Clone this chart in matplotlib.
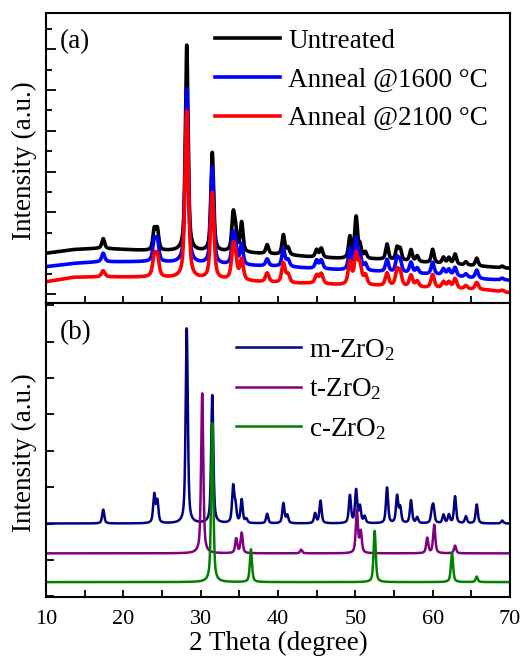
import numpy as np
import matplotlib
matplotlib.use("Agg")
import matplotlib.pyplot as plt
from matplotlib.ticker import MultipleLocator

plt.rcParams['font.family'] = ['Liberation Serif', 'DejaVu Serif']
plt.rcParams['mathtext.fontset'] = 'custom'
plt.rcParams['mathtext.rm'] = 'Liberation Serif'
plt.rcParams['mathtext.it'] = 'Liberation Serif:italic'

# ---- (a) measured patterns: peak positions (deg) and heights above background
pos_a = [17.4, 24.0, 24.4, 28.2, 31.5, 34.2, 34.5, 35.3, 38.6, 40.7, 41.3,
         45.0, 45.6, 49.3, 50.1, 50.6, 51.3, 54.1, 55.4, 55.8, 57.2, 58.0,
         60.0, 61.4, 62.1, 62.9, 64.3, 65.7, 69.0]
h_untreated = [0.24, 0.5, 0.5, 5.05, 2.42, 0.85, 0.5, 0.72, 0.22, 0.48, 0.17,
               0.18, 0.22, 0.52, 1.0, 0.3, 0.15, 0.38, 0.3, 0.27, 0.28, 0.14,
               0.33, 0.15, 0.15, 0.25, 0.08, 0.19, 0.04]
h_1600 = [0.21, 0.5, 0.5, 4.27, 2.37, 0.65, 0.42, 0.5, 0.17, 0.43, 0.16,
          0.2, 0.21, 0.5, 0.75, 0.35, 0.16, 0.3, 0.34, 0.28, 0.26, 0.13,
          0.29, 0.15, 0.15, 0.21, 0.08, 0.2, 0.04]
h_2100 = [0.15, 0.48, 0.48, 4.1, 2.12, 0.72, 0.42, 0.5, 0.22, 0.48, 0.2,
          0.2, 0.24, 0.55, 0.72, 0.45, 0.23, 0.31, 0.36, 0.31, 0.28, 0.14,
          0.32, 0.15, 0.15, 0.24, 0.08, 0.17, 0.04]

# smooth background under each measured pattern (deg, intensity)
bg_x = [10, 13.5, 17, 23.4, 33.5, 41, 44, 48, 53, 60.8, 67, 70]
bg_untreated = [1.0, 1.09, 1.12, 1.06, 1.03, 0.96, 0.91, 0.87, 0.85, 0.75, 0.67, 0.63]
bg_1600 = [0.67, 0.75, 0.79, 0.79, 0.71, 0.67, 0.63, 0.59, 0.55, 0.47, 0.36, 0.34]
bg_2100 = [0.30, 0.41, 0.42, 0.41, 0.34, 0.26, 0.26, 0.22, 0.20, 0.14, 0.10, 0.03]

# ---- (b) reference patterns
pos_m = [17.4, 24.0, 24.4, 28.2, 31.5, 34.2, 34.5, 35.3, 35.9, 38.6, 40.7,
         41.2, 44.8, 45.5, 49.3, 50.1, 50.6, 51.2, 54.1, 55.4, 55.8, 57.2,
         58.0, 59.9, 60.1, 61.4, 62.1, 62.9, 64.3, 65.7, 69.0]
h_m = [0.38, 0.78, 0.6, 5.36, 3.52, 0.98, 0.45, 0.64, 0.11, 0.26, 0.55,
       0.22, 0.27, 0.62, 0.76, 0.9, 0.45, 0.18, 0.98, 0.74, 0.42, 0.63,
       0.16, 0.28, 0.42, 0.23, 0.23, 0.74, 0.19, 0.52, 0.08]
pos_t = [30.2, 34.6, 35.3, 43.0, 50.2, 50.7, 59.3, 60.2, 62.9]
h_t = [4.4, 0.4, 0.56, 0.1, 1.17, 0.58, 0.42, 0.78, 0.21]
pos_c = [31.5, 36.5, 52.5, 62.5, 65.7]
h_c = [4.37, 0.9, 1.41, 0.81, 0.15]

base_m, base_t, base_c = 1.0, 0.18, -0.61

two_theta = np.linspace(10, 70, 4001)


def pattern(pos, heights, fwhm, eta=0.6):
    y = np.zeros_like(two_theta)
    for p, h in zip(pos, heights):
        d = (two_theta - p) / (fwhm / 2)
        lor = 1 / (1 + d**2)
        gau = np.exp(-np.log(2) * d**2)
        y += h * (eta * lor + (1 - eta) * gau)
    return y


fig = plt.figure(figsize=(5.25, 6.56), dpi=100)
ax1 = fig.add_axes([0.0876, 0.5381, 0.8838, 0.4421])
ax2 = fig.add_axes([0.0876, 0.0899, 0.8838, 0.4482])

ax1.plot(two_theta, np.interp(two_theta, bg_x, bg_untreated) + pattern(pos_a, h_untreated, 0.42),
         color='black', lw=2.6, label='Untreated')
ax1.plot(two_theta, np.interp(two_theta, bg_x, bg_1600) + pattern(pos_a, h_1600, 0.46),
         color='#0000ff', lw=2.6, label='Anneal @1600 \u00b0C')
ax1.plot(two_theta, np.interp(two_theta, bg_x, bg_2100) + pattern(pos_a, h_2100, 0.52),
         color='#ff0000', lw=2.6, label='Anneal @2100 \u00b0C')

ax2.plot(two_theta, base_m + pattern(pos_m, h_m, 0.33), color='#000080', lw=1.8,
         label='m-ZrO$_2$')
ax2.plot(two_theta, base_t + pattern(pos_t, h_t, 0.33), color='#800080', lw=1.8,
         label='t-ZrO$_2$')
ax2.plot(two_theta, base_c + pattern(pos_c, h_c, 0.33), color='#008000', lw=1.8,
         label='c-ZrO$_2$')

ax1.set_ylim(-0.22, 6.89)
ax2.set_ylim(-1.02, 7.06)

for ax in (ax1, ax2):
    ax.set_xlim(10, 70)
    ax.xaxis.set_major_locator(MultipleLocator(10))
    ax.xaxis.set_minor_locator(MultipleLocator(5))
    ax.yaxis.set_major_locator(MultipleLocator(1))
    ax.tick_params(axis='both', which='both', direction='in', top=False, right=False,
                   width=1.3, labelsize=16)
    ax.tick_params(axis='x', which='both', length=5, pad=9)
    ax.set_yticklabels([])
    for s in ax.spines.values():
        s.set_linewidth(1.5)
    ax.set_ylabel('Intensity (a.u.)', fontsize=19.5)
    ax.yaxis.set_label_coords(-0.019, 0.49)

ax1.yaxis.set_minor_locator(MultipleLocator(0.5))
ax1.tick_params(axis='y', which='major', length=7)
ax1.tick_params(axis='y', which='minor', length=4)
ax2.tick_params(axis='y', which='major', length=6)
ax1.tick_params(axis='x', labelbottom=False)

ax2.set_xlabel('2 Theta (degree)', fontsize=19.5, labelpad=1.5)

ax1.text(0.03, 0.9, '(a)', transform=ax1.transAxes, fontsize=19.5, va='center')
ax2.text(0.03, 0.9, '(b)', transform=ax2.transAxes, fontsize=19.5, va='center')

ax1.legend(loc='upper left', bbox_to_anchor=(0.365, 0.945), frameon=False, fontsize=19.5,
           handlelength=2.4, handletextpad=0.3, labelspacing=0.5, borderpad=0,
           borderaxespad=0)
ax2.legend(loc='upper left', bbox_to_anchor=(0.41, 0.885), frameon=False, fontsize=19.5,
           handlelength=2.4, handletextpad=0.3, labelspacing=0.5, borderpad=0,
           borderaxespad=0)

fig.savefig('out.png', dpi=100)
